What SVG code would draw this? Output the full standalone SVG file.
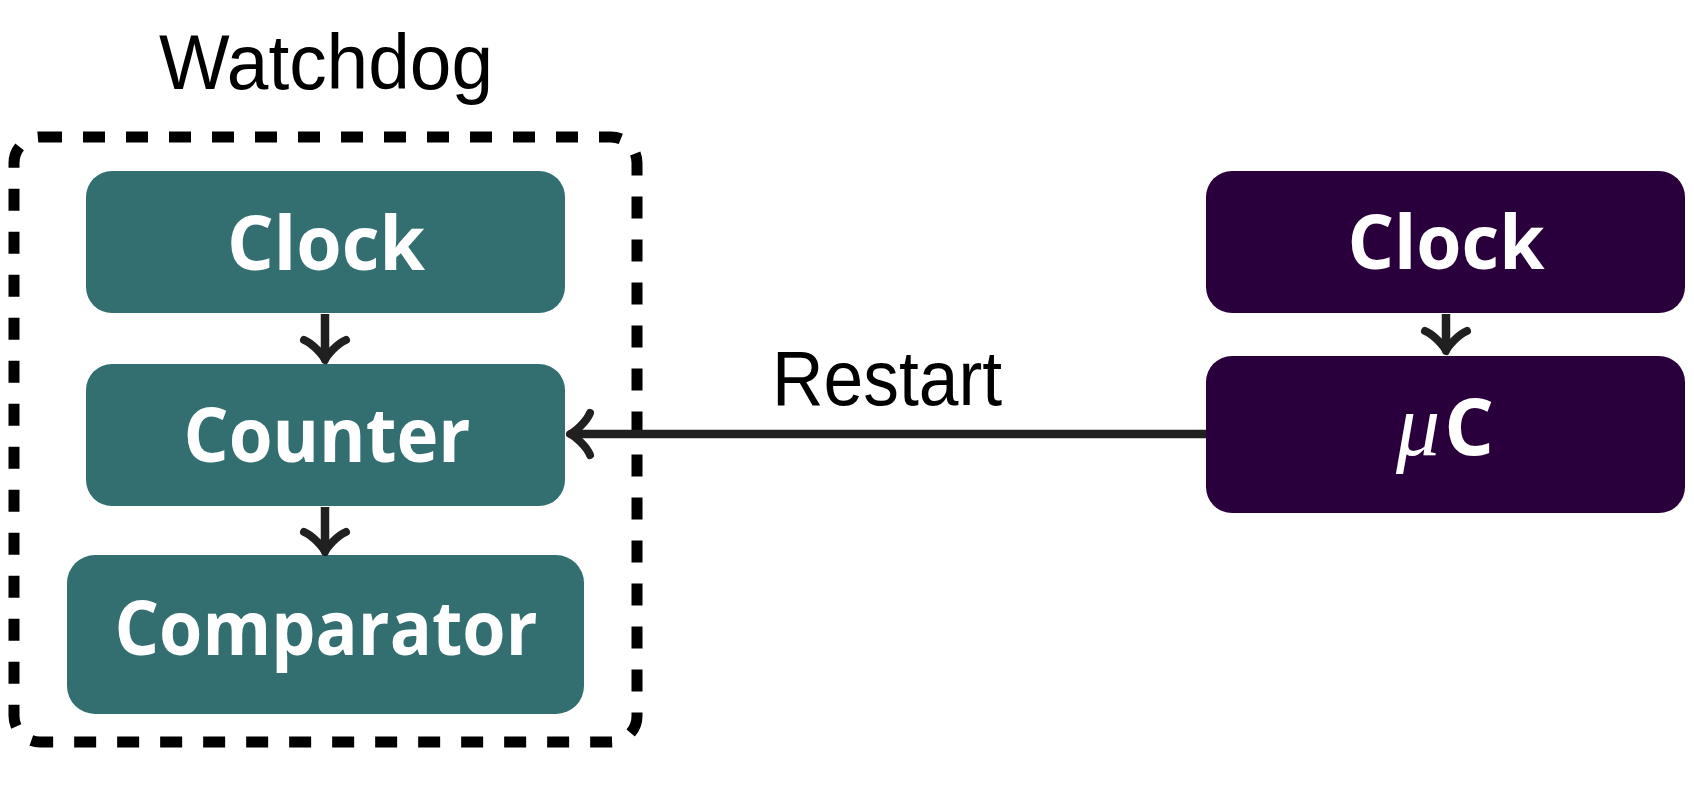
<svg xmlns="http://www.w3.org/2000/svg" width="1694" height="800" viewBox="0 0 1694 800">
<style>
.bg{fill:#ffffff}
.teal{fill:#336f71}
.purple{fill:#29003b}
.lbl{font-family:"Open Sans","Noto Sans","Liberation Sans",sans-serif;font-weight:bold;font-size:76px;fill:#ffffff;text-anchor:middle}
.title{font-family:"Liberation Sans","DejaVu Sans",sans-serif;font-size:77px;fill:#000000;text-anchor:middle}
.conn{stroke:#202020;stroke-width:8.5;fill:none}
.frame{fill:none;stroke:#000000;stroke-width:11;stroke-dasharray:22 21}
</style>
<defs>
<marker id="arr" markerUnits="userSpaceOnUse" markerWidth="40" markerHeight="60" viewBox="-30 -30 40 60" refX="0" refY="0" orient="auto" overflow="visible">
<path d="M -20,-21 C -16.5,-12 -4,-1.5 0,0 C -4,1.5 -16.5,12 -20,21" fill="none" stroke="#202020" stroke-width="8" stroke-linecap="round" stroke-linejoin="round"/>
</marker>
</defs>
<rect class="bg" x="0" y="0" width="1694" height="800"/>

<g id="watchdog">
<rect class="frame" x="14" y="137" width="623" height="605" rx="26"/>
<text class="title" x="326" y="89" textLength="334" lengthAdjust="spacingAndGlyphs">Watchdog</text>
</g>

<g id="wd-clock">
<rect class="teal" x="86" y="171" width="479" height="142" rx="26"/>
<text class="lbl" x="326" y="270" textLength="198" lengthAdjust="spacingAndGlyphs">Clock</text>
</g>
<g id="wd-counter">
<rect class="teal" x="86" y="364" width="479" height="142" rx="26"/>
<text class="lbl" x="327" y="462" textLength="287" lengthAdjust="spacingAndGlyphs">Counter</text>
</g>
<g id="wd-comparator">
<rect class="teal" x="67" y="555" width="517" height="159" rx="28"/>
<text class="lbl" x="326" y="655" textLength="423" lengthAdjust="spacingAndGlyphs">Comparator</text>
</g>

<g id="mc-clock">
<rect class="purple" x="1206" y="171" width="479" height="142" rx="26"/>
<text class="lbl" x="1446" y="269" textLength="197" lengthAdjust="spacingAndGlyphs">Clock</text>
</g>
<g id="mc">
<rect class="purple" x="1206" y="356" width="479" height="157" rx="26"/>
<text x="1445" y="455" text-anchor="middle" fill="#ffffff"><tspan font-family="Liberation Serif,serif" font-style="italic" font-size="88px">μ</tspan><tspan dx="4" font-family="Open Sans,Noto Sans,Liberation Sans,sans-serif" font-weight="bold" font-size="78px">C</tspan></text>
</g>

<g id="connectors">
<line class="conn" x1="325" y1="314" x2="325" y2="360" marker-end="url(#arr)"/>
<line class="conn" x1="325" y1="507" x2="325" y2="552" marker-end="url(#arr)"/>
<line class="conn" x1="1446" y1="314" x2="1446" y2="351" marker-end="url(#arr)"/>
<line class="conn" x1="1206" y1="434" x2="570" y2="434" marker-end="url(#arr)"/>
<text class="title" x="887" y="405" textLength="230" lengthAdjust="spacingAndGlyphs">Restart</text>
</g>
</svg>
